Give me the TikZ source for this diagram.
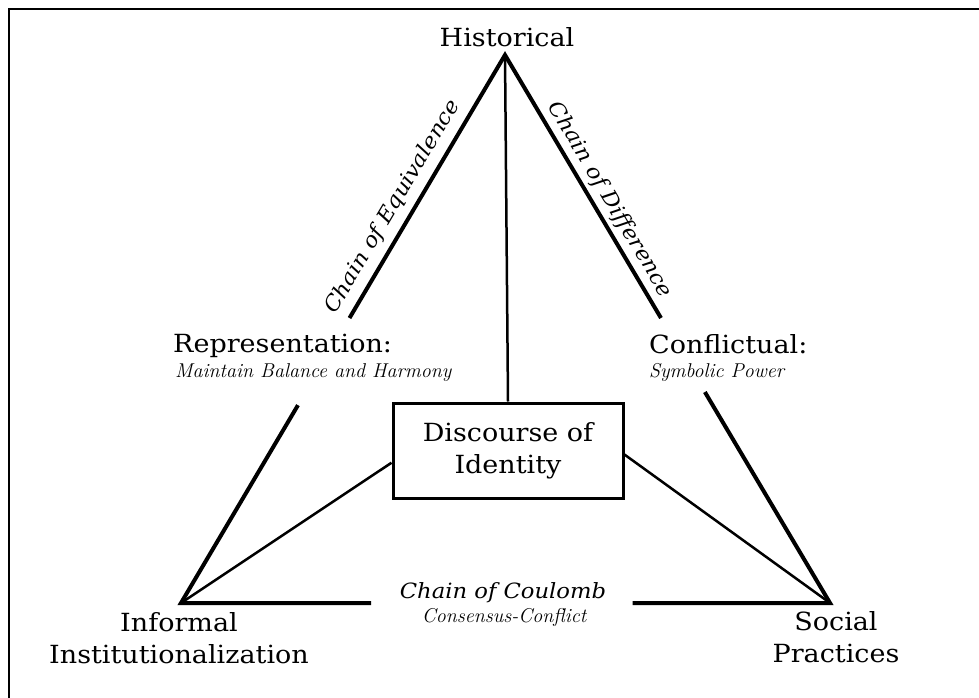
\documentclass[tikz,border=0pt]{standalone}
\usepackage{fontspec}
\newfontfamily\labfont{DejaVu Serif}[FakeStretch=1.08]
\usetikzlibrary{calc}
\begin{document}
\begin{tikzpicture}[x=1pt,y=-1pt,
  edge/.style={line width=4pt, line join=miter},
  thinedge/.style={line width=2.5pt},
  lab/.style={font=\labfont\fontsize{25}{32}\selectfont, inner sep=0pt, align=center},
  chain/.style={font=\labfont\itshape\fontsize{21}{25}\selectfont, inner sep=0pt},
  script/.style={font=\rmfamily\itshape\fontsize{20}{25}\selectfont, inner sep=0pt},
]
\useasboundingbox (0,0) rectangle (979,698);
\draw[line width=2pt] (979,9) -- (9,9) -- (9,698);

\coordinate (H) at (505,55);
\coordinate (I) at (181,603);
\coordinate (S) at (830,603);
\node[draw, line width=3pt, minimum width=230pt, minimum height=95pt, lab] (box) at (508,450.5) {Discourse of\\Identity};

% outer triangle with gaps
\draw[edge] ($(H)!0.48!(I)$) -- (H) -- ($(H)!0.48!(S)$);
\draw[edge] ($(H)!0.639!(I)$) -- (I) -- ($(I)!0.293!(S)$);
\draw[edge] ($(H)!0.615!(S)$) -- (S) -- ($(I)!0.696!(S)$);
% inner connectors
\draw[thinedge] (H) -- (box.north);
\draw[thinedge] (I) -- (box.186);
\draw[thinedge] (S) -- (box.-2);

% labels
\node[lab, anchor=base] (hist) at (507,47) {Historical};
\node[lab, anchor=north] (inf) at (179,612) {Informal\\Institutionalization};
\node[lab, anchor=north] (soc) at (836,611) {Social\\Practices};
\node[chain, anchor=base] (coul) at (503,598) {Chain of Coulomb};
\node[script, anchor=base] (cons) at (504,622) {Consensus-Conflict};
\path (I) -- (H) node[chain, pos=0.705, sloped, above=9pt] (equiv) {Chain of Equivalence};
\path (H) -- (S) node[chain, pos=0.279, sloped, above=6pt] (diff) {Chain of Difference};
\node[lab, anchor=base west] (rep) at (173,352) {Representation:};
\node[script, anchor=base west] (maint) at (175,377) {Maintain Balance and Harmony};
\node[lab, anchor=base west] (conf) at (649,353) {Conflictual:};
\node[script, anchor=base west] (symb) at (649,377) {Symbolic Power};
\end{tikzpicture}
\end{document}
